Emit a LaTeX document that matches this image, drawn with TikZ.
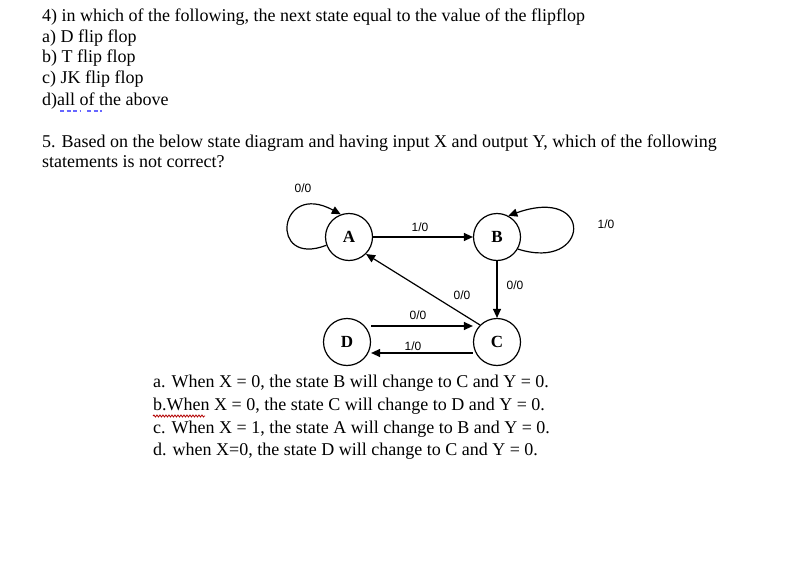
\documentclass[tikz,border=0pt]{standalone}
\usepackage{fontspec}
\setmainfont{Liberation Serif}
\newfontfamily\lab{Liberation Sans}
\usetikzlibrary{arrows.meta,decorations.pathmorphing}
\begin{document}
\begin{tikzpicture}[x=1pt,y=-1pt,
  txt/.style={anchor=west,inner sep=0pt,font=\fontsize{18}{21}\selectfont},
  st/.style={circle,draw,line width=1.2pt,minimum size=47pt,inner sep=0pt,font=\fontsize{17}{19}\selectfont\bfseries},
  lb/.style={inner sep=1pt,font=\lab\fontsize{12}{13}\selectfont},
  ed/.style={line width=1.2pt,-{Triangle[length=9pt,width=8pt]}}]
\useasboundingbox (0,0) rectangle (800,580);
\node[txt] (q4) at (42,17) {4) in which of the following, the next state equal to the value of the flipflop};
\node[txt] (a) at (42,38) {a) D flip flop};
\node[txt] (b) at (42,58) {b) T flip flop};
\node[txt] (c) at (42,79) {c) JK flip flop};
\node[txt] (d) at (42,101) {d)all of the above};
\draw[blue!60!white,line width=1.6pt,dash pattern=on 4pt off 2.5pt] (60,111) -- (81,111) (87,111) -- (102,111);
\node[txt] (q5) at (42,143) {5. Based on the below state diagram and having input X and output Y, which of the following};
\node[txt] (q5b) at (42,162) {statements is not correct?};
\node[st] (A) at (349,237) {A};
\node[st] (B) at (497,237) {B};
\node[st] (D) at (347,342) {D};
\node[st] (C) at (497,342) {C};
\draw[ed] (A) -- (B);
\draw[ed] (B) -- (C);
\draw[ed] (C.135) -- (A.-45);
\draw[ed] (D.east |- 0,326) -- (C.west |- 0,326);
\draw[ed] (C.west |- 0,353) -- (D.east |- 0,353);
\draw[ed] (A.200) .. controls (268,268) and (278,180) .. (A.110);
\draw[ed] (B.-30) .. controls (590,272) and (595,185) .. (B.62);
\node[lb] (l1) at (303,188) {0/0};
\node[lb] (l2) at (420,227) {1/0};
\node[lb] (l3) at (606,224) {1/0};
\node[lb] (l4) at (515,285) {0/0};
\node[lb] (l5) at (462,295) {0/0};
\node[lb] (l6) at (418,315) {0/0};
\node[lb] (l7) at (413,346) {1/0};
\node[txt] (o1) at (153,383) {a. When X = 0, the state B will change to C and Y = 0.};
\node[txt] (o2) at (153,406) {b.When X = 0, the state C will change to D and Y = 0.};
\node[txt] (o3) at (153,429) {c. When X = 1, the state A will change to B and Y = 0.};
\node[txt] (o4) at (153,451) {d. when X=0, the state D will change to C and Y = 0.};
\draw[red!70!black,line width=0.8pt,decorate,decoration={snake,amplitude=1pt,segment length=3pt}] (153,416) -- (205,416);
\end{tikzpicture}
\end{document}
